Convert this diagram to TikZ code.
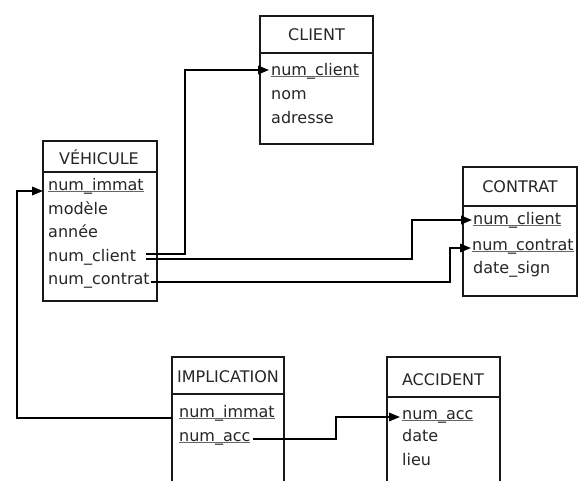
\documentclass[tikz,border=0pt]{standalone}
\usepackage{fontspec}
\setmainfont{DejaVu Sans}
\usetikzlibrary{arrows.meta}
% thin grey underline for key attributes
\newsavebox\keybox
\newcommand\keyattr[1]{\sbox\keybox{#1}\rlap{\textcolor{black!60}{\rule[-1.6pt]{\wd\keybox}{1pt}}}\usebox\keybox}
\begin{document}
\begin{tikzpicture}[x=1pt,y=-1pt,
  tbl/.style={draw=black!90, line width=1.8pt, anchor=north west, inner sep=0pt, outer sep=0pt},
  sep/.style={draw=black!90, line width=1.8pt},
  hdr/.style={inner sep=0pt, font=\fontsize{16}{19}\selectfont, text=black!85},
  row/.style={anchor=mid west, inner sep=0pt, font=\fontsize{16}{19}\selectfont, text=black!85},
  link/.style={line width=1.8pt, draw=black},
  arr/.style={link, -{Triangle[length=11pt,width=8.5pt]}}]
\clip (0,0) rectangle (584,480);
\fill[white] (0,0) rectangle (584,480);

% CLIENT
\node[tbl, minimum width=113pt, minimum height=128pt] (cbox) at (260,16) {};
\node[hdr] (chead) at (316.5,35) {CLIENT};
\draw[sep] (260,53) -- (373,53);
\node[row] (ccli) at (271,73) {\keyattr{num\_client}};
\node[row] (cnom) at (271,97) {nom};
\node[row] (cadr) at (271,121) {adresse};

% VÉHICULE
\node[tbl, minimum width=114pt, minimum height=160pt] (vbox) at (43,141) {};
\node[hdr] (vhead) at (99,157) {VÉHICULE};
\draw[sep] (43,172) -- (157,172);
\node[row] (vimm) at (48,188) {\keyattr{num\_immat}};
\node[row] (vmod) at (48,211.5) {modèle};
\node[row] (vann) at (48,235) {année};
\node[row] (vcli) at (48,258.5) {num\_client};
\node[row] (vcon) at (48,282) {num\_contrat};

% CONTRAT
\node[tbl, minimum width=114pt, minimum height=129pt] (kbox) at (463,167) {};
\node[hdr] (khead) at (520,187) {CONTRAT};
\draw[sep] (463,206) -- (577,206);
\node[row] (kcli) at (473,222) {\keyattr{num\_client}};
\node[row] (kcon) at (472,248) {\keyattr{num\_contrat}};
\node[row] (kdat) at (473,271) {date\_sign};

% IMPLICATION
\node[tbl, minimum width=112pt, minimum height=140pt] (ibox) at (172,357) {};
\node[hdr] (ihead) at (228,377) {IMPLICATION};
\draw[sep] (172,394) -- (284,394);
\node[row] (iimm) at (179,415) {\keyattr{num\_immat}};
\node[row] (iacc) at (179,439) {\keyattr{num\_acc}};

% ACCIDENT
\node[tbl, minimum width=113pt, minimum height=140pt] (abox) at (387,357) {};
\node[hdr] (ahead) at (443,380) {ACCIDENT};
\draw[sep] (387,397) -- (500,397);
\node[row] (aacc) at (402,417) {\keyattr{num\_acc}};
\node[row] (adat) at (402,439) {date};
\node[row] (alie) at (402,463) {lieu};

% connector ends
\coordinate (ccli-in) at ([shift={(-2,-3)}]ccli.mid west);
\coordinate (kcli-in) at ([shift={(-1,-2)}]kcli.mid west);
\coordinate (kcon-in) at ([xshift=-1pt]kcon.mid west);
\coordinate (vimm-in) at ([yshift=-3pt]vbox.west |- vimm.mid west);
\coordinate (aacc-in) at ([xshift=-2pt]aacc.mid west);
\coordinate (iimm-out) at ([yshift=-3pt]ibox.west |- iimm.mid west);

% foreign keys
\draw[arr] ([shift={(10,-4.5)}]vcli.mid east) -| (185,0 |- ccli-in) -- (ccli-in);
\draw[arr] ([shift={(10,0.5)}]vcli.mid east) -| (412,0 |- kcli-in) -- (kcli-in);
\draw[arr] ([xshift=1pt]vcon.mid east) -| (450,0 |- kcon-in) -- (kcon-in);
\draw[arr] (iimm-out) -| (17,0 |- vimm-in) -- (vimm-in);
\draw[arr] ([xshift=2pt]iacc.mid east) -| (336,0 |- aacc-in) -- (aacc-in);
\end{tikzpicture}
\end{document}
